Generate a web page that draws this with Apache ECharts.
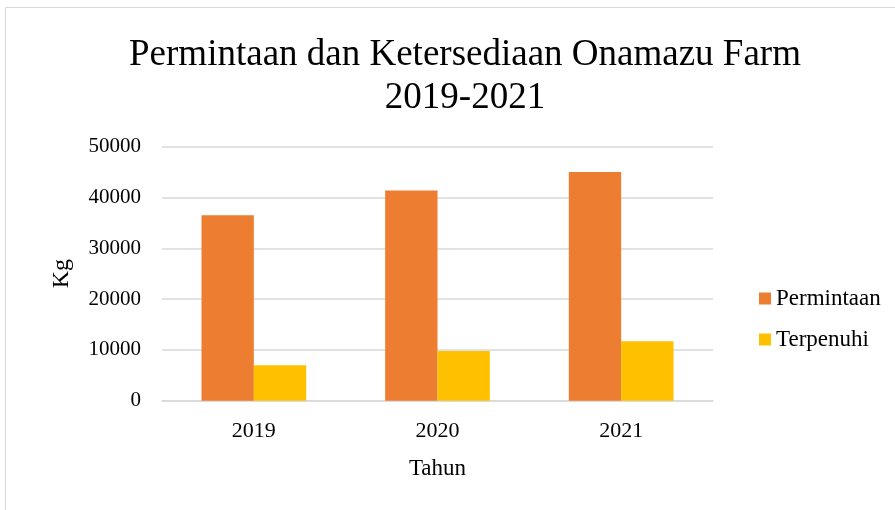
<!DOCTYPE html>
<html>
<head>
<meta charset="utf-8">
<script src="https://cdn.jsdelivr.net/npm/echarts@6/dist/echarts.min.js"></script>
<style>
  html, body { margin: 0; padding: 0; background: #fff; }
  #chart { width: 895px; height: 510px; }
</style>
</head>
<body>
<div id="chart"></div>
<script>
// data
const years = ['2019', '2020', '2021']
const permintaan = [36500, 41400, 45000]
const terpenuhi = [7000, 9800, 11700]
const yTicks = [0, 10000, 20000, 30000, 40000, 50000]

const serif = '"Liberation Serif", "DejaVu Serif", serif'
const chart = echarts.init(document.getElementById('chart'))

const option = {
  backgroundColor: '#fff',
  animation: false,
  title: {
    text: 'Permintaan dan Ketersediaan Onamazu Farm\n2019-2021',
    left: 460,
    top: 29,
    textAlign: 'center',
    textStyle: {
      fontFamily: serif,
      fontSize: 37,
      fontWeight: 'normal',
      color: '#000',
      lineHeight: 43
    }
  },
  legend: {
    orient: 'vertical',
    left: 754,
    top: 282,
    itemWidth: 12,
    itemHeight: 12,
    itemGap: 18,
    icon: 'rect',
    textStyle: { fontFamily: serif, fontSize: 23, color: '#000' },
    data: ['Permintaan', 'Terpenuhi']
  },
  grid: {
    left: 162,
    right: 182,
    top: 146.7,
    bottom: 109.3,
    containLabel: false
  },
  xAxis: {
    type: 'category',
    data: years,
    name: 'Tahun',
    nameLocation: 'middle',
    nameGap: 57,
    nameTextStyle: { fontFamily: serif, fontSize: 23, color: '#000' },
    axisLine: { lineStyle: { color: '#d9d9d9', width: 1.5 } },
    axisTick: { show: false },
    axisLabel: { fontFamily: serif, fontSize: 22, color: '#000', margin: 20 }
  },
  yAxis: {
    type: 'value',
    min: yTicks[0],
    max: yTicks[yTicks.length - 1],
    interval: 10000,
    name: 'Kg',
    nameLocation: 'middle',
    nameGap: 88,
    nameTextStyle: { fontFamily: serif, fontSize: 24, color: '#000' },
    axisLine: { show: false },
    axisTick: { show: false },
    axisLabel: {
      fontFamily: serif, fontSize: 21, color: '#000', margin: 21,
      formatter: (v) => String(v)
    },
    splitLine: { lineStyle: { color: '#d9d9d9', width: 1.5 } }
  },
  series: [
    {
      name: 'Permintaan',
      type: 'bar',
      data: permintaan,
      barGap: '0%',
      barCategoryGap: '43%',
      itemStyle: { color: '#ED7D31' }
    },
    {
      name: 'Terpenuhi',
      type: 'bar',
      data: terpenuhi,
      itemStyle: { color: '#FFC000' }
    }
  ],
  graphic: [
    {
      type: 'rect',
      shape: { x: 5.5, y: 7.5, width: 900, height: 520 },
      style: { fill: 'none', stroke: '#d9d9d9', lineWidth: 1 },
      silent: true
    }
  ]
}

chart.setOption(option)
</script>
</body>
</html>
